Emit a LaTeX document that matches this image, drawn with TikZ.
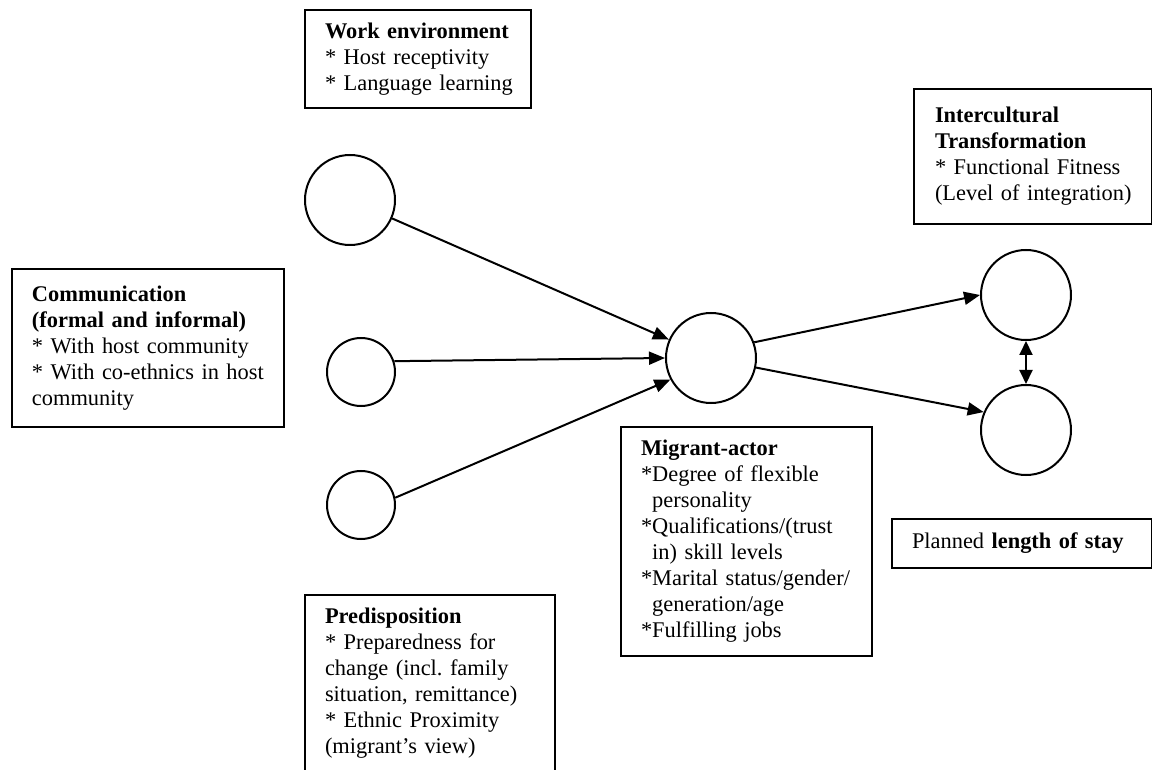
\documentclass[tikz,border=0pt]{standalone}
\usepackage{fontspec}
\setmainfont{Liberation Serif}
\usetikzlibrary{arrows.meta}
\newcommand{\lineb}[1]{\mbox{#1}}
\begin{document}
\begin{tikzpicture}[x=0.5pt,y=-0.5pt,
  every node/.style={font=\fontsize{11.2pt}{13pt}\selectfont},
  box/.style={draw, line width=1pt, rectangle, anchor=north west, align=left, inner xsep=10pt, inner ysep=2pt},
  ring/.style={draw, circle, line width=1pt, inner sep=0pt},
  arr/.style={line width=1pt, -{Triangle[length=8pt,width=6.5pt]}},
  darr/.style={line width=1pt, {Triangle[length=7pt,width=6.5pt]}-{Triangle[length=7pt,width=6.5pt]}}]
\useasboundingbox (0,0) rectangle (1152,770);
\clip (0,0) rectangle (1152,770);

% boxes
\node[box, text width=93pt, minimum width=113pt, minimum height=49pt] (webox) at (304,9)
  {\lineb{\textbf{Work environment}}\\\lineb{* Host receptivity}\\\lineb{* Language learning}};
\node[box, text width=116pt, minimum width=136pt, minimum height=79pt] (combox) at (11,268)
  {\lineb{\textbf{Communication}}\\\lineb{\textbf{(formal and informal)}}\\\lineb{* With host community}\\\lineb{* With co-ethnics in host}\\\lineb{community}};
\node[box, text width=105pt, minimum width=125pt, inner ysep=6.5pt] (prebox) at (304,594)
  {\lineb{\textbf{Predisposition}}\\\lineb{* Preparedness for}\\\lineb{change (incl.\ family}\\\lineb{situation, remittance)}\\\lineb{* Ethnic Proximity}\\\lineb{(migrant’s view)}\\\rule{0pt}{20pt}};
\node[box, text width=105.5pt, minimum width=125.5pt, minimum height=114.5pt] (migbox) at (620,426)
  {\lineb{\textbf{Migrant-actor}}\\\lineb{*Degree of flexible}\\\lineb{\phantom{*}personality}\\\lineb{*Qualifications/(trust}\\\lineb{\phantom{*}in) skill levels}\\\lineb{*Marital status/gender/}\\\lineb{\phantom{*}generation/age}\\\lineb{*Fulfilling jobs}};
\node[box, inner xsep=10.5pt, text width=98pt, minimum width=119pt, minimum height=67.5pt] (icbox) at (913,88)
  {\lineb{\textbf{Intercultural}}\\\lineb{\textbf{Transformation}}\\\lineb{* Functional Fitness}\\\lineb{(Level of integration)}};
\node[box, text width=110pt, minimum width=130pt, minimum height=24.5pt] (stbox) at (891,518)
  {\lineb{Planned \textbf{length of stay}}};

% circles
\node[ring, minimum size=45pt] (we) at (350,200) {};
\node[ring, minimum size=34pt] (c2) at (361,372) {};
\node[ring, minimum size=34pt] (c3) at (361,505) {};
\node[ring, minimum size=45pt] (m) at (711,358) {};
\node[ring, minimum size=45pt] (tr) at (1026,295) {};
\node[ring, minimum size=45pt] (br) at (1026,430) {};

% connectors
\draw[arr] (we) -- (m);
\draw[arr] (c2.18) -- (m.west);
\draw[arr] (c3.12) -- (m.208);
\draw[arr] (m.20) -- (tr.west);
\draw[arr] (m.-12) -- (br.157);
\draw[darr] (tr.south) -- (br.north);
\end{tikzpicture}
\end{document}
